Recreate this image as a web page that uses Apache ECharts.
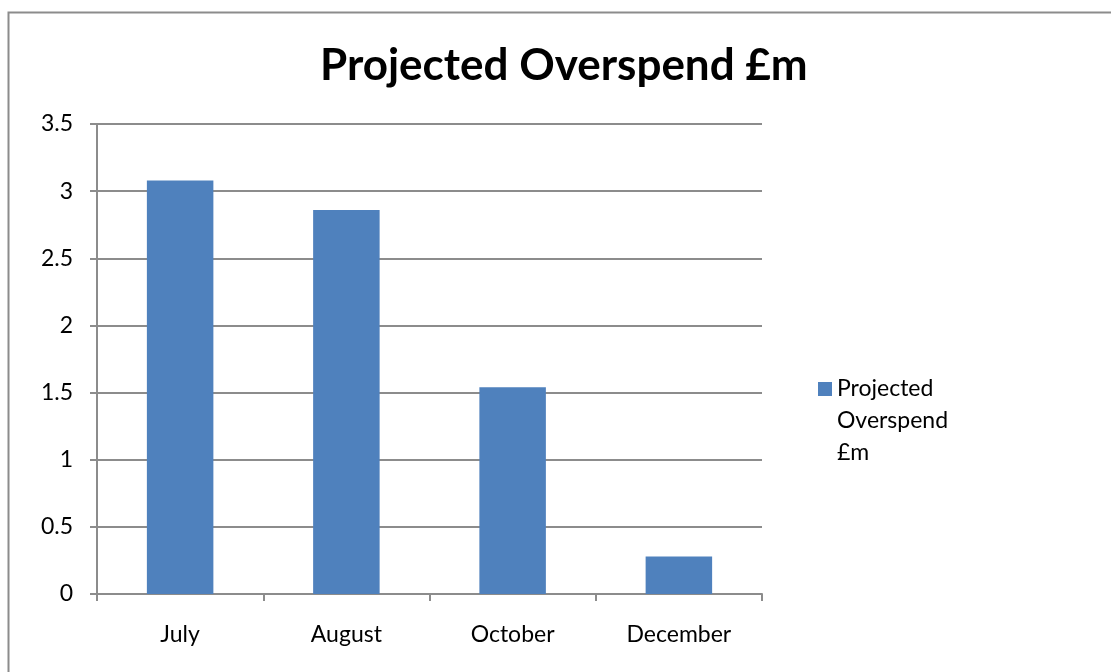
<!DOCTYPE html>
<html>
<head>
<meta charset="utf-8">
<title>Projected Overspend</title>
<script src="https://cdn.jsdelivr.net/npm/echarts@6/dist/echarts.min.js"></script>
<style>
  html, body { margin: 0; padding: 0; background: #fff; }
  #chart { width: 1111px; height: 672px; }
</style>
</head>
<body>
<div id="chart"></div>
<script>
// chart values
var months = ['July', 'August', 'October', 'December'];
var overspend = [3.08, 2.86, 1.54, 0.28];
var seriesName = 'Projected Overspend £m';
var yTicks = [0, 0.5, 1, 1.5, 2, 2.5, 3, 3.5];

var myChart = echarts.init(document.getElementById('chart'));
var font = 'Lato, "Open Sans", sans-serif';

var option = {
  backgroundColor: '#fff',
  animation: false,
  title: {
    text: seriesName,
    left: 320,
    top: 44,
    padding: 0,
    textStyle: {
      fontFamily: font,
      fontSize: 44,
      fontWeight: 'bold',
      color: '#000'
    }
  },
  // outer chart frame, only its top and left edges are visible
  graphic: [{
    type: 'rect',
    shape: { x: 8.5, y: 12.5, width: 1200, height: 800 },
    style: { fill: 'none', stroke: '#8c8c8c', lineWidth: 2 },
    silent: true
  }],
  legend: {
    left: 818,
    top: 373,
    padding: 0,
    orient: 'vertical',
    itemWidth: 14,
    itemHeight: 78,
    // square at the top of a tall item, so it sits beside the first text line
    icon: 'path://M0,0h14v14h-14z M0,78h0.001v0h-0.001z',
    formatter: function (name) {
      return name.split(' ').join('\n');
    },
    textStyle: {
      fontFamily: font,
      fontSize: 23,
      color: '#000',
      lineHeight: 32
    }
  },
  grid: {
    left: 97,
    right: 349,
    top: 124,
    bottom: 78,
    containLabel: false
  },
  xAxis: {
    type: 'category',
    data: months,
    axisLine: { lineStyle: { color: '#8c8c8c', width: 2 } },
    axisTick: { show: true, length: 7, alignWithLabel: false, lineStyle: { color: '#8c8c8c', width: 2 } },
    axisLabel: {
      margin: 29,
      fontFamily: font,
      fontSize: 23,
      color: '#000'
    }
  },
  yAxis: {
    type: 'value',
    min: yTicks[0],
    max: yTicks[yTicks.length - 1],
    interval: 0.5,
    axisLine: { show: true, lineStyle: { color: '#8c8c8c', width: 2 } },
    axisTick: { show: true, length: 7, lineStyle: { color: '#8c8c8c', width: 2 } },
    splitLine: { lineStyle: { color: '#8c8c8c', width: 2 } },
    axisLabel: {
      margin: 24,
      fontFamily: font,
      fontSize: 23,
      color: '#000'
    }
  },
  series: [{
    name: seriesName,
    type: 'bar',
    data: overspend,
    barWidth: '40%',
    itemStyle: { color: '#4F81BD' }
  }]
};

myChart.setOption(option);
</script>
</body>
</html>
